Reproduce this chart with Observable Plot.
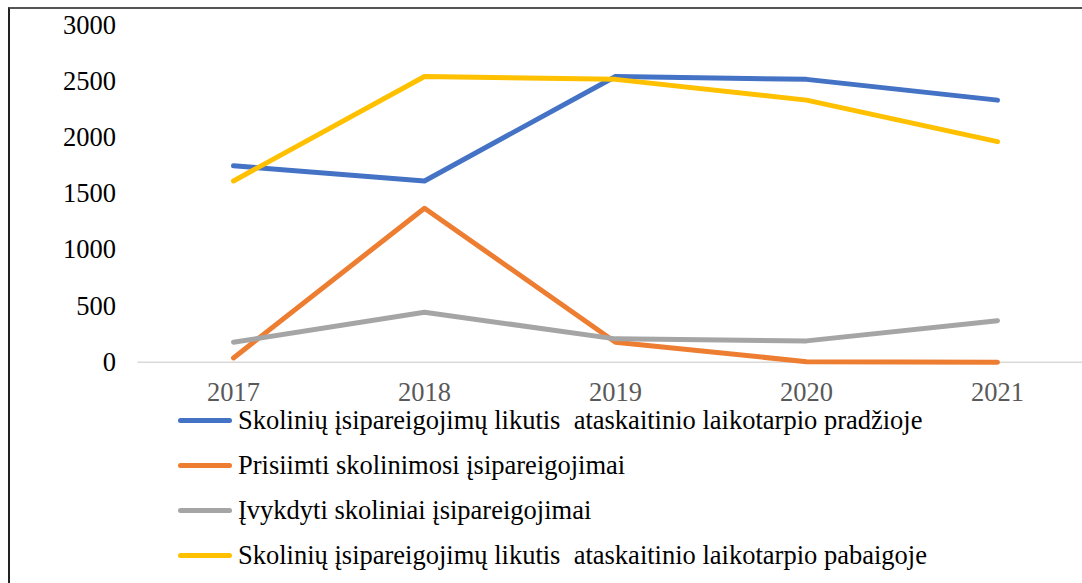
<!DOCTYPE html>
<html>
<head>
<meta charset="utf-8">
<script src="https://cdn.jsdelivr.net/npm/d3@7"></script>
<script src="https://cdn.jsdelivr.net/npm/@observablehq/plot@0.6"></script>
<style>
  html, body { margin: 0; padding: 0; background: #fff; overflow: hidden; width: 1082px; height: 583px; }
  #frame { position: absolute; left: 8px; top: 7px; width: 1200px; height: 700px;
           border-top: 2px solid #555; border-left: 2px solid #222; box-sizing: border-box; }
  #chart { position: absolute; left: 0; top: 0; width: 1100px; }
  #chart svg { max-width: none !important; }
  #legend { position: absolute; left: 178px; top: 398px; font-family: "Liberation Serif", "Times New Roman", "DejaVu Serif", serif; font-size: 26.5px; color: #000; }
  .row { display: flex; align-items: center; height: 45px; white-space: pre; }
  .sw { width: 54px; height: 5px; border-radius: 3px; margin-right: 6px; }
</style>
</head>
<body>
<div id="frame"></div>
<div id="chart"></div>
<div id="legend"></div>
<script>
const years = ["2017", "2018", "2019", "2020", "2021"];
const seriesNames = [
  "Skolinių įsipareigojimų likutis  ataskaitinio laikotarpio pradžioje",
  "Prisiimti skolinimosi įsipareigojimai",
  "Įvykdyti skoliniai įsipareigojimai",
  "Skolinių įsipareigojimų likutis  ataskaitinio laikotarpio pabaigoje"
];
const seriesColors = ["#4472C4", "#ED7D31", "#A5A5A5", "#FFC000"];
const startBalance = [1750, 1615, 2546, 2520, 2335];
const borrowed = [38, 1372, 178, 5, 0];
const repaid = [178, 445, 208, 190, 370];
const endBalance = [1615, 2546, 2520, 2335, 1965];
const yTicks = [0, 500, 1000, 1500, 2000, 2500, 3000];

const allSeries = [startBalance, borrowed, repaid, endBalance];
const data = [];
allSeries.forEach((vals, si) => {
  vals.forEach((v, i) => data.push({series: seriesNames[si], year: years[i], value: v}));
});

const plot = Plot.plot({
  width: 1100,
  height: 410,
  marginLeft: 137.4,
  marginRight: 6.4,
  marginTop: 25,
  marginBottom: 48.3,
  style: { fontFamily: "'Liberation Serif', 'Times New Roman', 'DejaVu Serif', serif", fontSize: "26.5px", background: "transparent", maxWidth: "none" },
  x: { type: "point", domain: years, padding: 0.5 },
  y: { domain: [0, 3000] },
  color: { domain: seriesNames, range: seriesColors },
  marks: [
    Plot.ruleY([0], { stroke: "#D9D9D9", strokeWidth: 1.5 }),
    Plot.axisY({ ticks: yTicks, tickFormat: d => String(d), tickSize: 0, tickPadding: 22, label: null, fill: "#000", fontSize: 26.5 }),
    Plot.axisX({ tickSize: 0, tickPadding: 20, label: null, fill: "#595959", fontSize: 26.5 }),
    Plot.line(data, { x: "year", y: "value", z: "series", stroke: "series", strokeWidth: 5,
                      strokeLinecap: "round", strokeLinejoin: "round" })
  ]
});
plot.style.maxWidth = "none";
plot.style.height = "410px";
document.getElementById("chart").appendChild(plot);

const legend = document.getElementById("legend");
seriesNames.forEach((name, i) => {
  const row = document.createElement("div");
  row.className = "row";
  const sw = document.createElement("div");
  sw.className = "sw";
  sw.style.background = seriesColors[i];
  const t = document.createElement("span");
  t.textContent = name;
  row.appendChild(sw);
  row.appendChild(t);
  legend.appendChild(row);
});
</script>
</body>
</html>
